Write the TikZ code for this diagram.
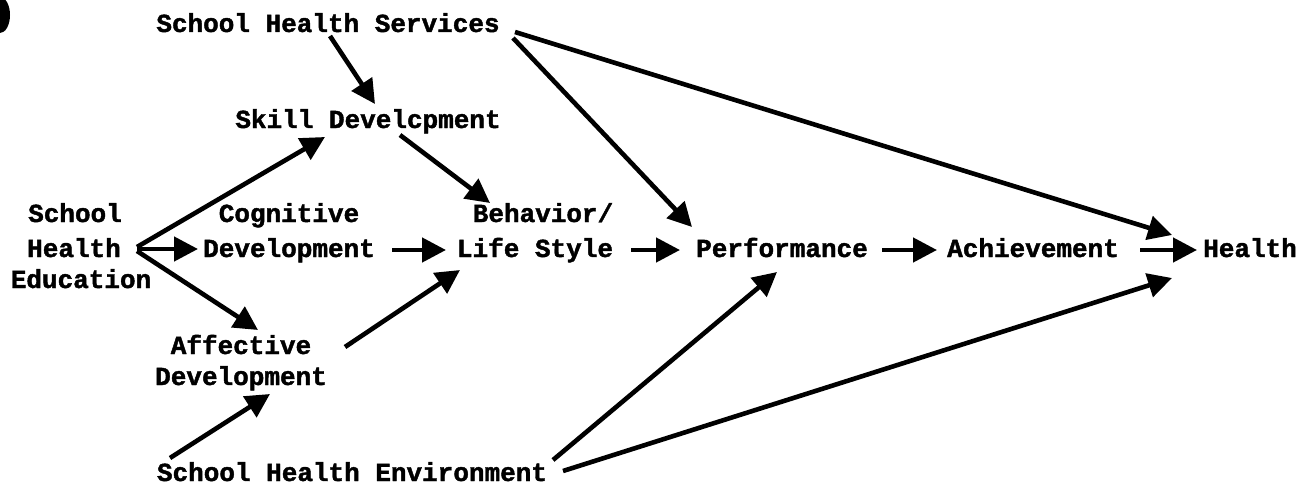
\documentclass[tikz,border=0pt]{standalone}
\usepackage{fontspec}
\newfontfamily\courfont{Liberation Mono}[BoldFeatures={FakeBold=1.6}]
\usetikzlibrary{arrows.meta}
\tikzset{
  lbl/.style={anchor=base, inner sep=0pt, outer sep=0pt, font=\courfont\bfseries\fontsize{26}{32}\selectfont},
  arr/.style={line width=4.6pt, -{Triangle[length=24pt,width=24pt]}},
}
\begin{document}
\begin{tikzpicture}[x=1pt,y=-1pt]
\useasboundingbox (0,0) rectangle (1306,487);
\fill (0,15) ellipse [x radius=10pt, y radius=18pt];
% nodes
\node[lbl] (shs) at (328,32) {School Health Services};
\node[lbl] (skill) at (368,128) {Skill Develcpment};
\node[lbl] (edu1) at (75,222) {School};
\node[lbl] (edu2) at (74,257) {Health};
\node[lbl] (edu3) at (81,288) {Education};
\node[lbl] (cog1) at (289,222) {Cognitive};
\node[lbl] (cog2) at (289,257) {Development};
\node[lbl] (beh1) at (543,222) {Behavior/};
\node[lbl] (beh2) at (535,257) {Life Style};
\node[lbl] (perf) at (782,257) {Performance};
\node[lbl] (ach) at (1033,257) {Achievement};
\node[lbl] (hlth) at (1250,257) {Health};
\node[lbl] (aff1) at (241,354) {Affective};
\node[lbl] (aff2) at (241,385) {Development};
\node[lbl] (she) at (352,481) {School Health Environment};
% connectors
\draw[arr] ([shift={(2,4)}]shs.base) -- ([shift={(7,-24)}]skill.base);
\draw[arr] ([shift={(185,6)}]shs.base) -- ([shift={(-90,-30)}]perf.base);
\draw[arr] ([shift={(187,0)}]shs.base) -- ([shift={(-78,-22)}]hlth.base);
\draw[arr] ([shift={(32,7)}]skill.base) -- ([shift={(-53,-19)}]beh1.base);
\draw[arr] ([shift={(63,-10)}]edu2.base) -- ([shift={(-43,9)}]skill.base);
\draw[arr] ([shift={(63,-8)}]edu2.base) -- ([shift={(-91,-8)}]cog2.base);
\draw[arr] ([shift={(63,-6)}]edu2.base) -- ([shift={(17,-24)}]aff1.base);
\draw[arr] ([shift={(103,-7)}]cog2.base) -- ([shift={(-89,-7)}]beh2.base);
\draw[arr] ([shift={(104,-7)}]aff1.base) -- ([shift={(-75,13)}]beh2.base);
\draw[arr] ([shift={(96,-7)}]beh2.base) -- ([shift={(-102,-7)}]perf.base);
\draw[arr] ([shift={(100,-7)}]perf.base) -- ([shift={(-96,-7)}]ach.base);
\draw[arr] ([shift={(107,-7)}]ach.base) -- ([shift={(-53,-7)}]hlth.base);
\draw[arr] ([shift={(-182,-23)}]she.base) -- ([shift={(29,9)}]aff2.base);
\draw[arr] ([shift={(201,-21)}]she.base) -- ([shift={(-5,15)}]perf.base);
\draw[arr] ([shift={(211,-10)}]she.base) -- ([shift={(-78,21)}]hlth.base);
\end{tikzpicture}
\end{document}
